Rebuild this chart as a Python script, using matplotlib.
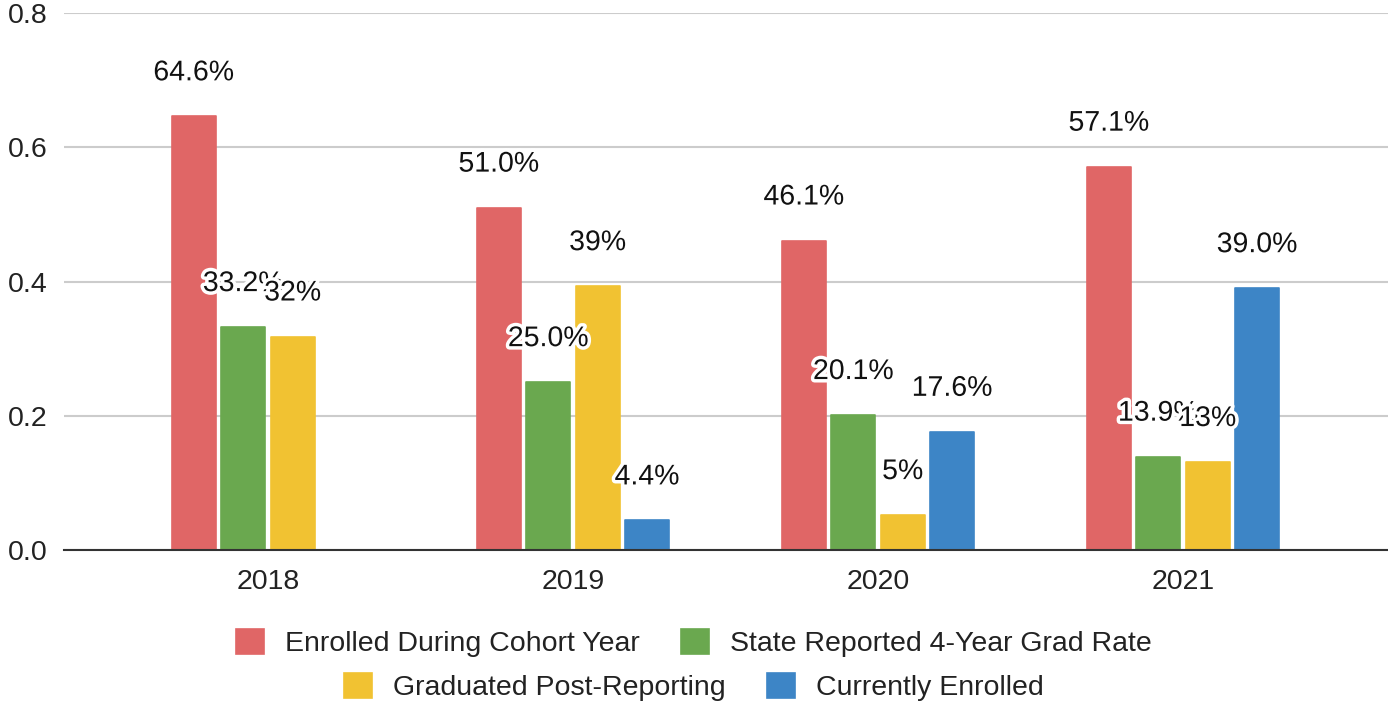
import matplotlib

matplotlib.use("Agg")
import matplotlib.pyplot as plt
import matplotlib.patheffects as pe
import numpy as np

years = ["2018", "2019", "2020", "2021"]
series_names = [
    "Enrolled During Cohort Year",
    "State Reported 4-Year Grad Rate",
    "Graduated Post-Reporting",
    "Currently Enrolled",
]
enrolled = [0.646, 0.510, 0.461, 0.571]
state_grad = [0.332, 0.250, 0.201, 0.139]
post_reporting = [0.318, 0.393, 0.052, 0.131]
currently = [np.nan, 0.044, 0.176, 0.390]
enrolled_labels = ["64.6%", "51.0%", "46.1%", "57.1%"]
state_grad_labels = ["33.2%", "25.0%", "20.1%", "13.9%"]
post_labels = ["32%", "39%", "5%", "13%"]
currently_labels = ["", "4.4%", "17.6%", "39.0%"]
colors = ["#e06666", "#6aa84f", "#f1c232", "#3d85c6"]

plt.rcParams["font.family"] = ["Liberation Sans", "DejaVu Sans"]
text_color = "#222222"
fs = 20.5

fig = plt.figure(figsize=(13.88, 7.03), dpi=100)
ax = fig.add_axes([0.046, 0.2176, 0.954, 0.7639])

values = [enrolled, state_grad, post_reporting, currently]
labels = [enrolled_labels, state_grad_labels, post_labels, currently_labels]
x = np.arange(len(years))
step, width = 0.162, 0.144
handles = []
for j, (vals, labs, color) in enumerate(zip(values, labels, colors)):
    pos = x + (j - 1.5) * step
    bars = ax.bar(pos, vals, width, color=color, edgecolor=color, linewidth=1.2,
                  joinstyle="round", zorder=2)
    handles.append(bars)
    for px, v, lab in zip(pos, vals, labs):
        if np.isnan(v) or not lab:
            continue
        ax.annotate(lab, (px, v), xytext=(0, 31), textcoords="offset points",
                    ha="center", va="center", fontsize=fs, color="#111111", zorder=5,
                    path_effects=[pe.withStroke(linewidth=5, foreground="white")])

ax.set_xlim(-0.669, 3.672)
ax.set_ylim(0, 0.8)
ax.set_yticks([0.0, 0.2, 0.4, 0.6, 0.8])
ax.set_yticklabels(["0.0", "0.2", "0.4", "0.6", "0.8"])
ax.set_xticks(x)
ax.set_xticklabels(years)
ax.tick_params(axis="both", length=0, labelsize=fs, colors=text_color)
ax.tick_params(axis="y", pad=12)
ax.tick_params(axis="x", pad=14)
ax.grid(axis="y", color="#cccccc", linewidth=1.5, zorder=0)
ax.set_axisbelow(True)
for side in ["top", "right", "left"]:
    ax.spines[side].set_visible(False)
ax.spines["bottom"].set_color("#333333")
ax.spines["bottom"].set_linewidth(1.5)
ax.spines["bottom"].set_zorder(3)

legend_kw = dict(loc="center", ncol=2, frameon=False, fontsize=fs, handlelength=0.98,
                 handleheight=0.98, handletextpad=0.74, columnspacing=1.44,
                 labelcolor=text_color)
fig.legend(handles[:2], series_names[:2], bbox_to_anchor=(0.5, 1 - 643 / 703), **legend_kw)
fig.legend(handles[2:], series_names[2:], bbox_to_anchor=(0.5, 1 - 687 / 703), **legend_kw)

fig.savefig("out.png", dpi=100)
